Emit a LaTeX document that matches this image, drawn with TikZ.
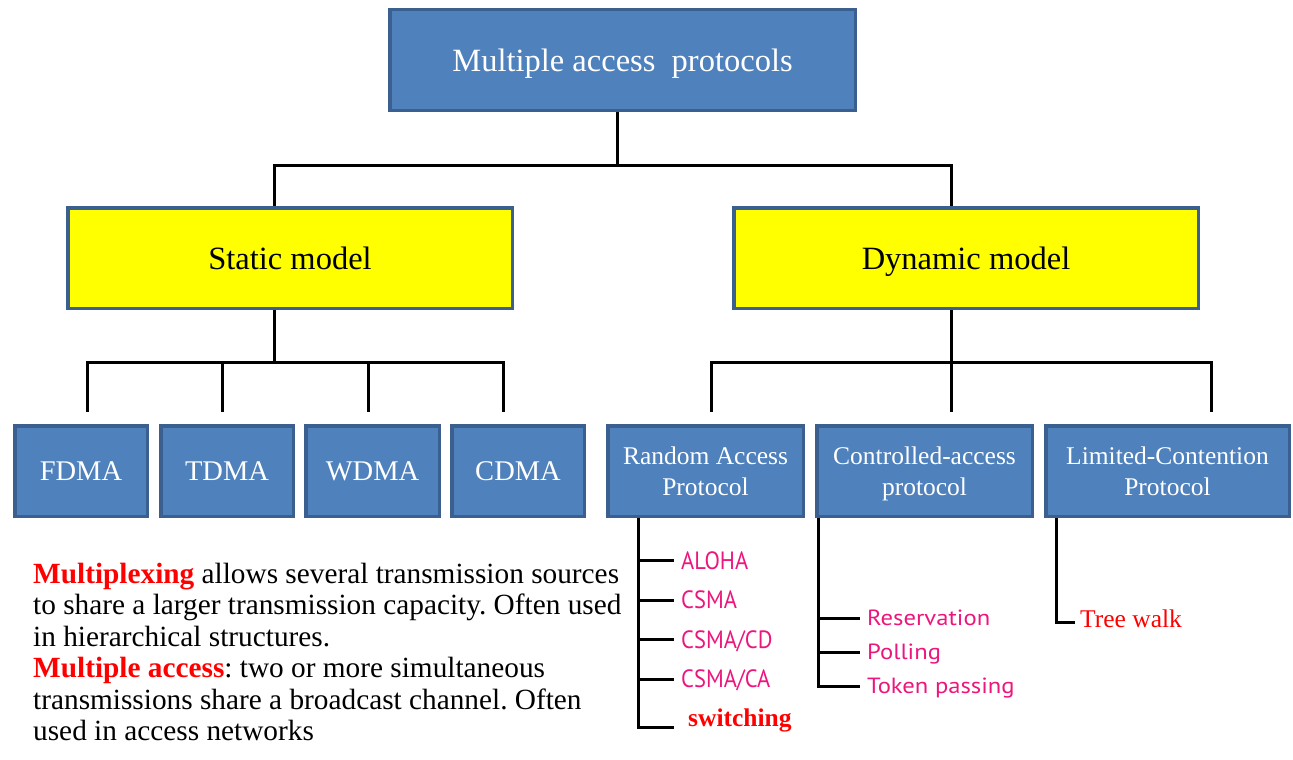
\documentclass[tikz,border=0pt]{standalone}
\usepackage{fontspec}
\setmainfont{Liberation Serif}
\newfontfamily\pinkfont[FakeStretch=0.9]{PT Sans}
\newfontfamily\pinkwide[FakeStretch=1.12]{PT Sans}
\definecolor{boxblue}{HTML}{4F81BD}
\definecolor{boxedge}{HTML}{3B5F8F}
\definecolor{pinklab}{RGB}{236,22,124}
\definecolor{redlab}{RGB}{255,0,0}
\definecolor{boxyellow}{RGB}{255,255,0}
\frenchspacing
\newcommand{\nodepth}[1]{\raisebox{0pt}[\height][0pt]{#1}}
\tikzset{
  bluebox/.style={draw=boxedge, line width=3.5pt, fill=boxblue, text=white, inner sep=0pt, align=center},
  yellowbox/.style={draw=boxedge, line width=3.5pt, fill=boxyellow, text=black, inner sep=0pt, align=center},
  conn/.style={draw=black, line width=3pt},
  pinkitem/.style={text=pinklab, inner sep=0pt, anchor=base west, font=\pinkfont\fontsize{25}{29}\selectfont},
  pinkitemw/.style={text=pinklab, inner sep=0pt, anchor=base west, font=\pinkwide\fontsize{22}{26}\selectfont},
}
\begin{document}
\begin{tikzpicture}[x=1pt,y=-1pt]
\useasboundingbox (0,0) rectangle (1293,760);
% boxes
\node[bluebox, minimum width=465.5pt, minimum height=100.5pt, font=\fontsize{32.5}{38}\selectfont] (top) at (622.5,60) {\nodepth{Multiple access~~protocols}};
\node[yellowbox, minimum width=444.5pt, minimum height=100.5pt, font=\fontsize{32.5}{38}\selectfont] (static) at (290,258) {\nodepth{Static model}};
\node[yellowbox, minimum width=464.5pt, minimum height=100.5pt, font=\fontsize{32.5}{38}\selectfont] (dynamic) at (966,258) {\nodepth{Dynamic model}};
\node[bluebox, minimum width=132.5pt, minimum height=90.5pt, font=\fontsize{28.5}{34}\selectfont] (fdma) at (81,471) {FDMA};
\node[bluebox, minimum width=132.5pt, minimum height=90.5pt, font=\fontsize{28.5}{34}\selectfont] (tdma) at (227,471) {TDMA};
\node[bluebox, minimum width=133.5pt, minimum height=90.5pt, font=\fontsize{28.5}{34}\selectfont] (wdma) at (372.5,471) {WDMA};
\node[bluebox, minimum width=132.5pt, minimum height=90.5pt, font=\fontsize{28.5}{34}\selectfont] (cdma) at (518,471) {CDMA};
\node[bluebox, minimum width=195.5pt, minimum height=90.5pt, font=\fontsize{25.5}{31}\selectfont] (ra) at (705.5,471) {Random Access\\Protocol};
\node[bluebox, minimum width=215.5pt, minimum height=90.5pt, font=\fontsize{25.5}{31}\selectfont] (ca) at (924.5,471) {Controlled-access\\\nodepth{protocol}};
\node[bluebox, minimum width=243.5pt, minimum height=90.5pt, font=\fontsize{25.5}{31}\selectfont] (lc) at (1167.5,471) {Limited-Contention\\Protocol};
% top connectors
\draw[conn] ([xshift=-5.5pt]top.south) -- ++(0,53) coordinate (tj);
\draw[conn] ([xshift=-16pt]static.north) |- (tj) -| ([xshift=-15pt]dynamic.north);
% static connectors
\draw[conn] ([xshift=-16pt]static.south) -- ++(0,52) coordinate (sj);
\coordinate (s1) at (87,412);
\coordinate (s2) at (222,412);
\coordinate (s3) at (368,412);
\coordinate (s4) at (503,412);
\draw[conn] (s1) -- (s1 |- sj) -- (s4 |- sj) -- (s4);
\draw[conn] (s2) -- (s2 |- sj);
\draw[conn] (s3) -- (s3 |- sj);
% dynamic connectors
\draw[conn] ([xshift=-15pt]dynamic.south) -- ++(0,52) coordinate (dj);
\coordinate (d1) at (711,412);
\coordinate (d2) at (951,412);
\coordinate (d3) at (1211,412);
\draw[conn] (d1) -- (d1 |- dj) -- (d3 |- dj) -- (d3);
\draw[conn] (d2) -- (d2 |- dj);
% random access list
\node[pinkitem] (aloha) at (681,569) {ALOHA};
\node[pinkitem] (csma) at (681,608.5) {CSMA};
\node[pinkitem] (csmacd) at (681,648) {CSMA/CD};
\node[pinkitem] (csmaca) at (681,687.5) {CSMA/CA};
\node[text=redlab, inner sep=0pt, anchor=base west, font=\bfseries\fontsize{25.5}{30}\selectfont] (sw) at (688,726) {switching};
\coordinate (rend) at (638,727);
\coordinate (ta) at ([xshift=-7pt,yshift=8.5pt]aloha.base west);
\coordinate (tb) at ([xshift=-7pt,yshift=8.5pt]csma.base west);
\coordinate (tc) at ([xshift=-7pt,yshift=8.5pt]csmacd.base west);
\coordinate (td) at ([xshift=-7pt,yshift=8.5pt]csmaca.base west);
\draw[conn] ([xshift=32pt]ra.south west) -- (rend) -- ++(36,0);
\draw[conn] (rend |- ta) -- (ta);
\draw[conn] (rend |- tb) -- (tb);
\draw[conn] (rend |- tc) -- (tc);
\draw[conn] (rend |- td) -- (td);
% controlled access list
\node[pinkitemw] (res) at (867,625) {Reservation};
\node[pinkitemw] (pol) at (867,659) {Polling};
\node[pinkitemw] (tok) at (867,693) {Token passing};
\coordinate (ua) at ([xshift=-7pt,yshift=7pt]res.base west);
\coordinate (ub) at ([xshift=-7pt,yshift=7pt]pol.base west);
\coordinate (uc) at ([xshift=-7pt,yshift=7pt]tok.base west);
\coordinate (cend) at (818,686);
\draw[conn] ([xshift=3pt]ca.south west) -- (cend |- uc) -- (uc);
\draw[conn] (cend |- ua) -- (ua);
\draw[conn] (cend |- ub) -- (ub);
% limited contention
\node[text=redlab, inner sep=0pt, anchor=base west, font=\fontsize{25.5}{30}\selectfont] (tw) at (1080,627) {Tree walk};
\coordinate (lend) at (1056,622);
\draw[conn] ([xshift=12pt]lc.south west) -- (lend) -- ([xshift=-5pt]lend -| tw.west);
% explanatory text
\node[anchor=north west, inner sep=0pt, align=left, font=\fontsize{29.3}{31.4}\selectfont] (expl) at (33,563)
{\textcolor{redlab}{\bfseries Multiplexing} allows several transmission sources\\
to share a larger transmission capacity. Often used\\
in hierarchical structures.\\
\textcolor{redlab}{\bfseries Multiple access}: two or more simultaneous\\
transmissions share a broadcast channel. Often\\
used in access networks};
\end{tikzpicture}
\end{document}
